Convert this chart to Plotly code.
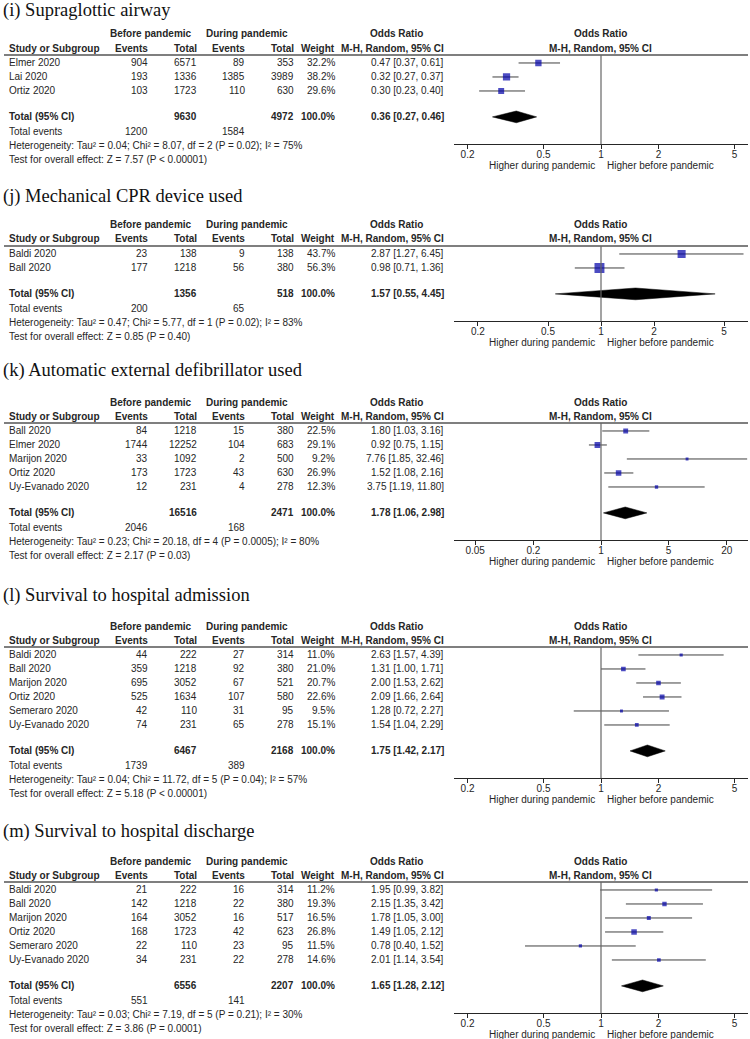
import plotly.graph_objects as go

# ---------------- data ----------------
titles = ["(i) Supraglottic airway", "(j) Mechanical CPR device used",
          "(k) Automatic external defibrillator used",
          "(l) Survival to hospital admission", "(m) Survival to hospital discharge"]

# (i) supraglottic airway
study_i = ["Elmer 2020", "Lai 2020", "Ortiz 2020"]
ev_before_i = [904, 193, 103]
tot_before_i = [6571, 1336, 1723]
ev_during_i = [89, 1385, 110]
tot_during_i = [353, 3989, 630]
weight_i = [32.2, 38.2, 29.6]
or_i = [0.47, 0.32, 0.30]
lo_i = [0.37, 0.27, 0.23]
hi_i = [0.61, 0.37, 0.40]
pooled_i = [0.36, 0.27, 0.46]
totals_i = [9630, 4972, 1200, 1584]
stats_i = ["0.04", "8.07", 2, "= 0.02", "75", "7.57", "< 0.00001"]

# (j) mechanical CPR device
study_j = ["Baldi 2020", "Ball 2020"]
ev_before_j = [23, 177]
tot_before_j = [138, 1218]
ev_during_j = [9, 56]
tot_during_j = [138, 380]
weight_j = [43.7, 56.3]
or_j = [2.87, 0.98]
lo_j = [1.27, 0.71]
hi_j = [6.45, 1.36]
pooled_j = [1.57, 0.55, 4.45]
totals_j = [1356, 518, 200, 65]
stats_j = ["0.47", "5.77", 1, "= 0.02", "83", "0.85", "= 0.40"]

# (k) AED used
study_k = ["Ball 2020", "Elmer 2020", "Marijon 2020", "Ortiz 2020", "Uy-Evanado 2020"]
ev_before_k = [84, 1744, 33, 173, 12]
tot_before_k = [1218, 12252, 1092, 1723, 231]
ev_during_k = [15, 104, 2, 43, 4]
tot_during_k = [380, 683, 500, 630, 278]
weight_k = [22.5, 29.1, 9.2, 26.9, 12.3]
or_k = [1.80, 0.92, 7.76, 1.52, 3.75]
lo_k = [1.03, 0.75, 1.85, 1.08, 1.19]
hi_k = [3.16, 1.15, 32.46, 2.16, 11.80]
pooled_k = [1.78, 1.06, 2.98]
totals_k = [16516, 2471, 2046, 168]
stats_k = ["0.23", "20.18", 4, "= 0.0005", "80", "2.17", "= 0.03"]

# (l) survival to hospital admission
study_l = ["Baldi 2020", "Ball 2020", "Marijon 2020", "Ortiz 2020", "Semeraro 2020", "Uy-Evanado 2020"]
ev_before_l = [44, 359, 695, 525, 42, 74]
tot_before_l = [222, 1218, 3052, 1634, 110, 231]
ev_during_l = [27, 92, 67, 107, 31, 65]
tot_during_l = [314, 380, 521, 580, 95, 278]
weight_l = [11.0, 21.0, 20.7, 22.6, 9.5, 15.1]
or_l = [2.63, 1.31, 2.00, 2.09, 1.28, 1.54]
lo_l = [1.57, 1.00, 1.53, 1.66, 0.72, 1.04]
hi_l = [4.39, 1.71, 2.62, 2.64, 2.27, 2.29]
pooled_l = [1.75, 1.42, 2.17]
totals_l = [6467, 2168, 1739, 389]
stats_l = ["0.04", "11.72", 5, "= 0.04", "57", "5.18", "< 0.00001"]

# (m) survival to hospital discharge
study_m = ["Baldi 2020", "Ball 2020", "Marijon 2020", "Ortiz 2020", "Semeraro 2020", "Uy-Evanado 2020"]
ev_before_m = [21, 142, 164, 168, 22, 34]
tot_before_m = [222, 1218, 3052, 1723, 110, 231]
ev_during_m = [16, 22, 16, 42, 23, 22]
tot_during_m = [314, 380, 517, 623, 95, 278]
weight_m = [11.2, 19.3, 16.5, 26.8, 11.5, 14.6]
or_m = [1.95, 2.15, 1.78, 1.49, 0.78, 2.01]
lo_m = [0.99, 1.35, 1.05, 1.05, 0.40, 1.14]
hi_m = [3.82, 3.42, 3.00, 2.12, 1.52, 3.54]
pooled_m = [1.65, 1.28, 2.12]
totals_m = [6556, 2207, 551, 141]
stats_m = ["0.03", "7.19", 5, "= 0.21", "30", "3.86", "= 0.0001"]

ticks_std = [0.2, 0.5, 1, 2, 5]
ticks_k = [0.05, 0.2, 1, 5, 20]

panels = [
    (study_i, ev_before_i, tot_before_i, ev_during_i, tot_during_i, weight_i, or_i, lo_i, hi_i, pooled_i, totals_i, stats_i, ticks_std),
    (study_j, ev_before_j, tot_before_j, ev_during_j, tot_during_j, weight_j, or_j, lo_j, hi_j, pooled_j, totals_j, stats_j, ticks_std),
    (study_k, ev_before_k, tot_before_k, ev_during_k, tot_during_k, weight_k, or_k, lo_k, hi_k, pooled_k, totals_k, stats_k, ticks_k),
    (study_l, ev_before_l, tot_before_l, ev_during_l, tot_during_l, weight_l, or_l, lo_l, hi_l, pooled_l, totals_l, stats_l, ticks_std),
    (study_m, ev_before_m, tot_before_m, ev_during_m, tot_during_m, weight_m, or_m, lo_m, hi_m, pooled_m, totals_m, stats_m, ticks_std),
]

# ---------------- layout constants ----------------
W, H = 750, 1039
FONT = "Liberation Sans, Arial, sans-serif"
SERIF = "Liberation Serif, Times New Roman, serif"
INK = "#262626"
FS, FSB = 10, 10           # regular / bold text size
ROW = 14
panel_top = [55, 246, 423, 647, 882]      # header rule of each panel (px)
title_y = [11, 197, 370, 595, 831]
log_half = [0.77, 0.835, 1.52, 0.77, 0.77]
fx0, fx1 = 454, 748                       # forest plot span (px)
cx = {"study": 7, "ev1": 150, "tot1": 199, "ev2": 247, "tot2": 296, "wt": 337, "ci": 446}
Y_TOP = -0.57

fig = go.Figure()
ann, shp = [], []


def txt(s, xpx, row, top, anchor="right", bold=False):
    ypx = top + ROW * (row - Y_TOP)
    ann.append(dict(text=f"<b>{s}</b>" if bold else s, x=xpx / W, xref="paper", y=1 - ypx / H, yref="paper",
                    xanchor=anchor, yanchor="middle", showarrow=False,
                    font=dict(family=FONT, size=FSB if bold else FS, color=INK)))


for p, (study, eb, tb, ed, td, wt, orr, lo, hi, pooled, totals, st, ticks) in enumerate(panels, start=1):
    n = len(study)
    y_bot = n + 2.8
    top = panel_top[p - 1]
    bottom = top + ROW * (y_bot - Y_TOP)
    sfx = "" if p == 1 else str(p)
    xr, yr = "x" + sfx, "y" + sfx
    rows = list(range(n))
    tot_row = n + 0.85

    # CI whiskers
    xs, ys = [], []
    for i in rows:
        xs += [lo[i], hi[i], None]
        ys += [i, i, None]
    fig.add_trace(go.Scatter(x=xs, y=ys, mode="lines", line=dict(color="#404040", width=1),
                             xaxis=xr, yaxis=yr, hoverinfo="skip", showlegend=False))
    # study squares
    fig.add_trace(go.Scatter(x=orr, y=rows, mode="markers",
                             marker=dict(symbol="square", color="#0000a8", size=[1.5 + 0.15 * w for w in wt],
                                         line=dict(width=0)),
                             xaxis=xr, yaxis=yr, showlegend=False))
    # pooled diamond
    est, plo, phi = pooled
    fig.add_trace(go.Scatter(x=[plo, est, phi, est, plo],
                             y=[tot_row, tot_row - 0.42, tot_row, tot_row + 0.42, tot_row],
                             mode="lines", fill="toself", fillcolor="black", line=dict(color="black", width=0.5),
                             xaxis=xr, yaxis=yr, showlegend=False))

    fig.update_layout({
        "xaxis" + sfx: dict(type="log", range=[-log_half[p - 1], log_half[p - 1]], domain=[fx0 / W, fx1 / W],
                            anchor=yr, tickvals=ticks, ticktext=[f"{t:g}" for t in ticks],
                            ticks="outside", ticklen=4, tickcolor=INK, showline=True, linecolor=INK,
                            linewidth=1, showgrid=False, zeroline=False, ticklabelstandoff=-3,
                            tickfont=dict(family=FONT, size=FS, color=INK)),
        "yaxis" + sfx: dict(domain=[1 - bottom / H, 1 - top / H], range=[y_bot, Y_TOP], visible=False,
                            anchor=xr),
    })

    # header rule and line of no effect
    shp.append(dict(type="line", xref="paper", yref=yr + " domain", x0=4 / W, x1=748 / W, y0=1, y1=1,
                    line=dict(color="#555555", width=1.5)))
    shp.append(dict(type="line", xref=xr, yref=yr + " domain", x0=1, x1=1, y0=0, y1=1,
                    line=dict(color="#666666", width=1.2)))

    # title
    ann.append(dict(text=titles[p - 1], x=1 / W, xref="paper", y=1 - title_y[p - 1] / H, yref="paper",
                    xanchor="left", yanchor="middle", showarrow=False,
                    font=dict(family=SERIF, size=18.5, color="#111")))

    # headers
    h1, h2 = -2.07, -1.07
    txt("Before pandemic", 151, h1, top, "center", True)
    txt("During pandemic", 247, h1, top, "center", True)
    txt("Odds Ratio", 396, h1, top, "center", True)
    txt("Odds Ratio", 600, h1, top, "center", True)
    txt("Study or Subgroup", cx["study"], h2, top, "left", True)
    txt("Events", cx["ev1"], h2, top, bold=True)
    txt("Total", cx["tot1"], h2, top, bold=True)
    txt("Events", cx["ev2"], h2, top, bold=True)
    txt("Total", cx["tot2"], h2, top, bold=True)
    txt("Weight", cx["wt"], h2, top, bold=True)
    txt("M-H, Random, 95% CI", cx["ci"], h2, top, bold=True)
    txt("M-H, Random, 95% CI", 600, h2, top, "center", True)

    # study rows
    for i in rows:
        txt(study[i], cx["study"], i, top, "left")
        txt(str(eb[i]), cx["ev1"], i, top)
        txt(str(tb[i]), cx["tot1"], i, top)
        txt(str(ed[i]), cx["ev2"], i, top)
        txt(str(td[i]), cx["tot2"], i, top)
        txt(f"{wt[i]:.1f}%", cx["wt"], i, top)
        txt(f"{orr[i]:.2f} [{lo[i]:.2f}, {hi[i]:.2f}]", cx["ci"], i, top)

    # totals
    txt("Total (95% CI)", cx["study"], tot_row, top, "left", True)
    txt(str(totals[0]), cx["tot1"], tot_row, top, bold=True)
    txt(str(totals[1]), cx["tot2"], tot_row, top, bold=True)
    txt("100.0%", cx["wt"], tot_row, top, bold=True)
    txt(f"{est:.2f} [{plo:.2f}, {phi:.2f}]", cx["ci"], tot_row, top, bold=True)
    txt("Total events", cx["study"], n + 1.9, top, "left")
    txt(str(totals[2]), cx["ev1"], n + 1.9, top)
    txt(str(totals[3]), cx["ev2"], n + 1.9, top)
    tau, chi, df, ph, i2, z, pz = st
    txt(f"Heterogeneity: Tau² = {tau}; Chi² = {chi}, df = {df} (P {ph}); I² = {i2}%",
        cx["study"], n + 2.9, top, "left")
    txt(f"Test for overall effect: Z = {z} (P {pz})", cx["study"], n + 3.9, top, "left")

    # direction labels
    txt("Higher during pandemic", 597, n + 4.3, top)
    txt("Higher before pandemic", 605, n + 4.3, top, "left")

fig.update_layout(width=W, height=H, margin=dict(l=0, r=0, t=0, b=0),
                  paper_bgcolor="white", plot_bgcolor="rgba(0,0,0,0)",
                  annotations=ann, shapes=shp, showlegend=False)

fig.write_html("out.html", config={"displayModeBar": False},
               post_script="document.body.style.margin='0';document.body.style.overflow='hidden';")
